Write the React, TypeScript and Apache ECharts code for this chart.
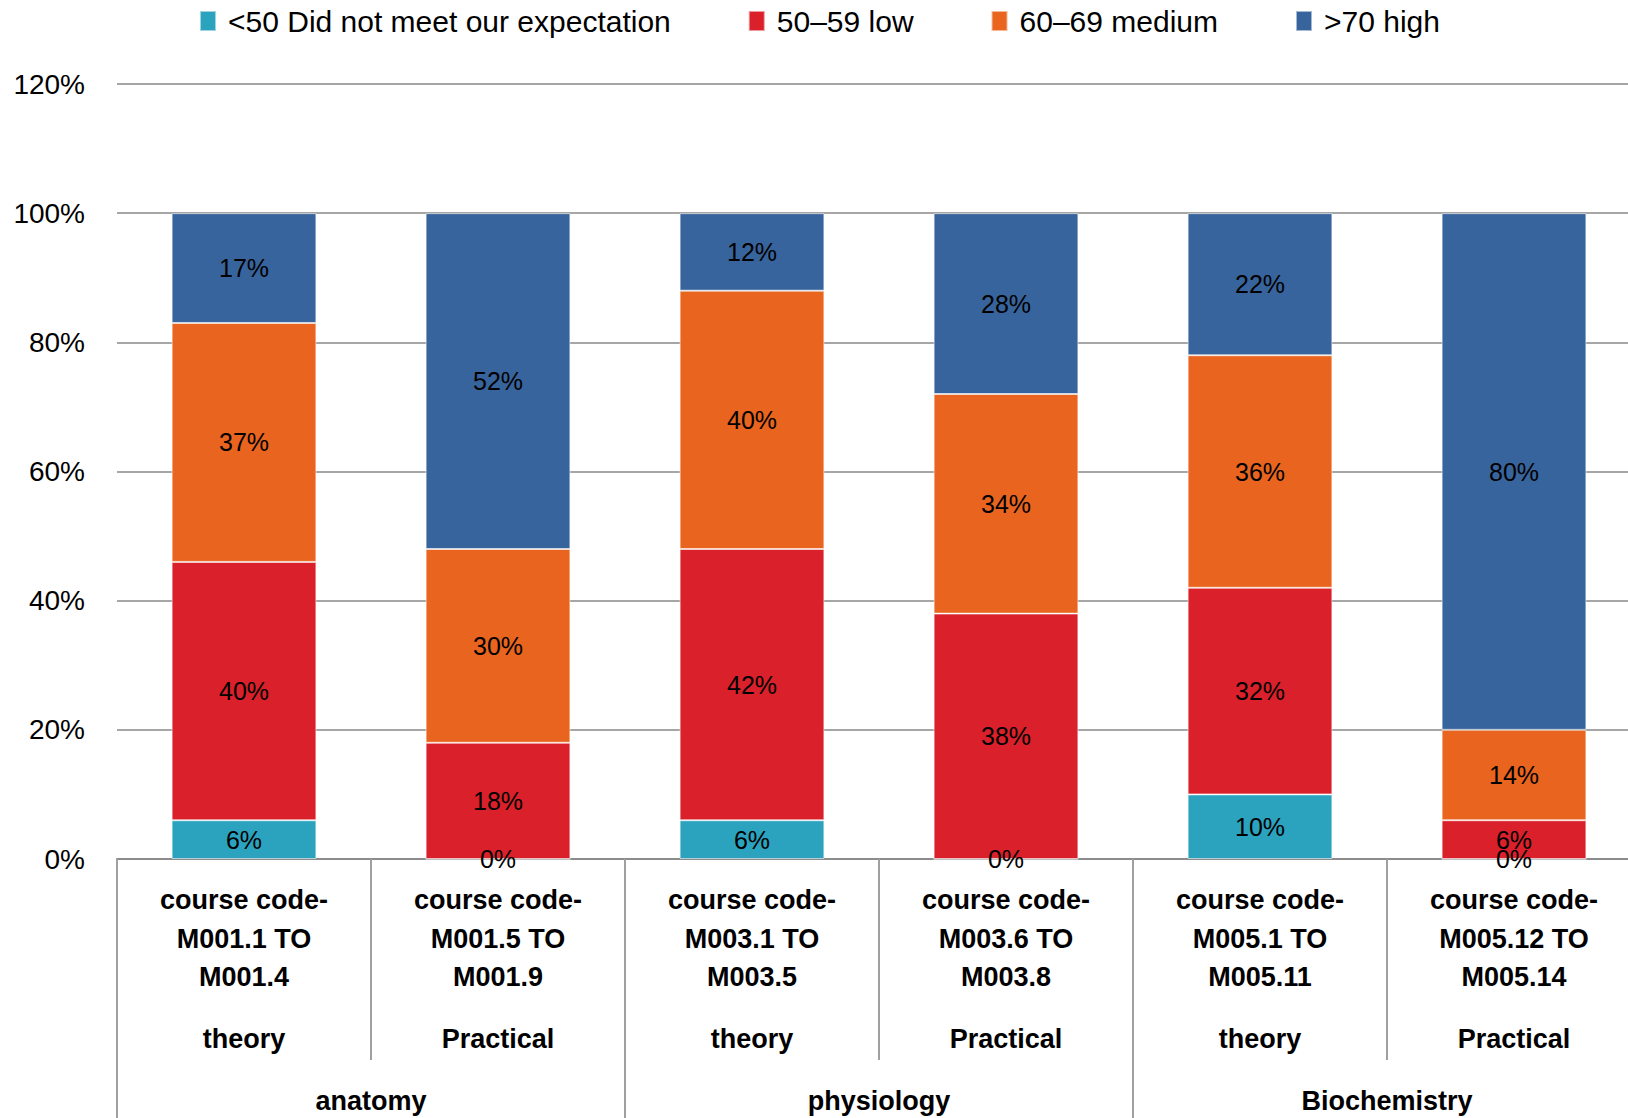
import React, { useEffect, useRef } from "react";
import * as echarts from "echarts";

const courseCodes = [
  "course code-\nM001.1 TO\nM001.4",
  "course code-\nM001.5 TO\nM001.9",
  "course code-\nM003.1 TO\nM003.5",
  "course code-\nM003.6 TO\nM003.8",
  "course code-\nM005.1 TO\nM005.11",
  "course code-\nM005.12 TO\nM005.14",
];
const sessionTypes = ["theory", "Practical", "theory", "Practical", "theory", "Practical"];
const subjects = ["anatomy", "physiology", "Biochemistry"];

const seriesNames = ["<50 Did not meet our expectation", "50–59 low", "60–69 medium", ">70 high"];
const belowFifty = [6, 0, 6, 0, 10, 0];
const low = [40, 18, 42, 38, 32, 6];
const medium = [37, 30, 40, 34, 36, 14];
const high = [17, 52, 12, 28, 22, 80];
const colors = ["#2BA3BF", "#DA202A", "#E9641E", "#38649D"];

const FONT = "'Liberation Sans', Arial, sans-serif";

export default function App() {
  const ref = useRef<HTMLDivElement>(null);
  useEffect(() => {
    if (!ref.current) return;
    const chart = echarts.init(ref.current, null, { renderer: "svg" });
    const values = [belowFifty, low, medium, high];
    chart.setOption({
      animation: false,
      textStyle: { fontFamily: FONT },
      legend: {
        left: 194,
        top: 1,
        itemWidth: 16,
        itemHeight: 20,
        itemGap: 77,
        icon: "rect",
        textStyle: { fontSize: 30, color: "#000", fontFamily: FONT, padding: [0, 0, 0, 7] },
        data: seriesNames,
      },
      grid: {
        left: 117,
        width: 1524,
        top: 84,
        bottom: 259,
        containLabel: false,
        outerBoundsMode: "none",
      },
      xAxis: [
        {
          type: "category",
          data: courseCodes,
          position: "bottom",
          axisLine: { show: true, lineStyle: { color: "#8c8c8c", width: 2 } },
          axisTick: { show: true, length: 201, lineStyle: { color: "#a0a0a0", width: 2 } },
          axisLabel: {
            interval: 0,
            margin: 22,
            fontSize: 27,
            fontWeight: "bold",
            lineHeight: 38.5,
            color: "#000",
            fontFamily: FONT,
          },
        },
        {
          type: "category",
          data: sessionTypes,
          position: "bottom",
          axisLine: { show: false },
          axisTick: { show: false },
          axisLabel: {
            interval: 0,
            margin: 161,
            fontSize: 27,
            fontWeight: "bold",
            lineHeight: 38,
            color: "#000",
            fontFamily: FONT,
          },
        },
        {
          type: "category",
          data: subjects,
          position: "bottom",
          axisLine: { show: false },
          axisTick: { show: true, length: 259, lineStyle: { color: "#a0a0a0", width: 2 } },
          axisLabel: {
            interval: 0,
            margin: 223,
            fontSize: 27,
            fontWeight: "bold",
            lineHeight: 38,
            color: "#000",
            fontFamily: FONT,
          },
        },
      ],
      yAxis: {
        type: "value",
        min: 0,
        max: 120,
        interval: 20,
        axisLine: { show: false },
        axisTick: { show: false },
        splitLine: { show: true, lineStyle: { color: "#a6a6a6", width: 2 } },
        axisLabel: {
          formatter: "{value}%",
          fontSize: 28,
          color: "#000",
          margin: 32,
          fontFamily: FONT,
        },
      },
      series: seriesNames.map((name, i) => ({
        name,
        type: "bar",
        stack: "total",
        xAxisIndex: 0,
        barWidth: "57%",
        data: values[i],
        itemStyle: { color: colors[i], borderColor: "rgba(255,255,255,0.55)", borderWidth: 1 },
        label: {
          show: true,
          position: "inside",
          formatter: "{c}%",
          fontSize: 25,
          color: "#000",
          fontFamily: FONT,
        },
      })),
    });
    return () => chart.dispose();
  }, []);
  return (
    <div
      ref={ref}
      style={{ position: "absolute", left: 0, top: 0, width: 1628, height: 1118, background: "#fff" }}
    />
  );
}
